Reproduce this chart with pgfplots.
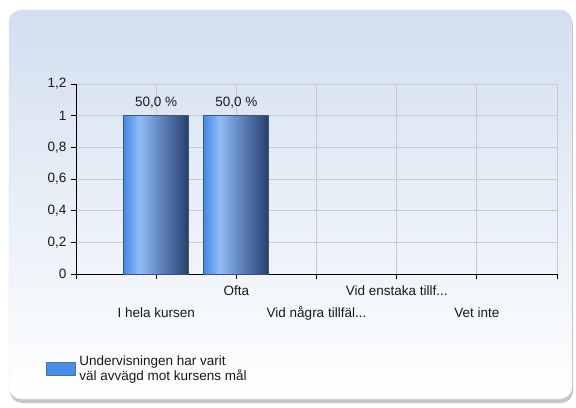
\documentclass[border=0pt]{standalone}
\usepackage{fontspec}
\setmainfont{Liberation Sans}
\usepackage{pgfplots}
\pgfplotsset{compat=1.18}

\definecolor{panelblue}{RGB}{210,223,240}
\definecolor{gridgray}{RGB}{196,201,210}
\definecolor{legblue}{RGB}{72,142,232}
\definecolor{legborder}{RGB}{90,110,140}
\definecolor{barborder}{RGB}{60,85,125}
\definecolor{ba}{RGB}{70,138,230}
\definecolor{bb}{RGB}{144,188,245}
\definecolor{bc}{RGB}{112,150,205}
\definecolor{bd}{RGB}{72,104,158}
\definecolor{be}{RGB}{36,62,104}
\definecolor{txt}{RGB}{25,25,25}

% bar path is mapped onto 25bp..75bp of the shading
\pgfdeclarehorizontalshading{barshade}{100bp}{color(0bp)=(ba); color(25bp)=(ba);
  color(37bp)=(bb); color(48bp)=(bc); color(62bp)=(bd); color(75bp)=(be); color(100bp)=(be)}

\newcommand{\lblfont}{\fontsize{13.5bp}{22bp}\selectfont}
\newcommand{\trdots}{.{}.{}.}

\begin{document}
\begin{tikzpicture}[x=1bp,y=1bp]
% panel with shadow
\fill[black!22, rounded corners=12bp] (10,4) rectangle (573,394);
\shade[top color=panelblue, bottom color=white, rounded corners=12bp, draw=black!12]
  (9,8) rectangle (572,397);

\begin{axis}[
    at={(76bp,133bp)}, anchor=south west,
    scale only axis,
    width=481bp, height=190bp,
    ybar, bar width=65bp, bar shift=0pt,
    xmin=-1, xmax=5,
    ymin=0, ymax=1.2,
    xtick={-1,0,1,2,3,4,5},
    xticklabels={{},{\vphantom{Ofta}\\I hela kursen},{Ofta},{\vphantom{Ofta}\\Vid några tillfäl\trdots},{Vid enstaka tillf\trdots},{\vphantom{Ofta}\\Vet inte},{}},
    ytick={0,0.2,0.4,0.6,0.8,1,1.2},
    yticklabel style={/pgf/number format/use comma},
    /pgf/number format/assume math mode=true,
    x tick label style={align=center, font=\lblfont, text=txt, yshift=-3bp},
    y tick label style={font=\lblfont, text=txt, xshift=-1bp},
    grid=major,
    major grid style={gridgray, line width=0.8bp},
    axis lines*=left,
    axis line style={black, line width=0.9bp},
    tick align=outside,
    major tick length=5bp,
    tick style={black, line width=0.8bp},
    point meta=explicit,
    nodes near coords={\pgfmathprintnumber[fixed,fixed zerofill,precision=1,use comma]{\pgfplotspointmeta} \%},
    every node near coord/.append style={font=\lblfont, text=txt, yshift=4bp},
    legend style={at={(axis description cs:-0.070,-0.50)}, anchor=west,
      draw=none, fill=none, font=\fontsize{13.5bp}{15bp}\selectfont,
      text=txt, cells={anchor=west, align=left}, column sep=2bp},
]
% one plot per bar, so each bar gets its own shading
\addplot[draw=barborder, line width=0.8bp, shading=barshade, forget plot]
  coordinates {(0,1) [50]};
\addplot[draw=barborder, line width=0.8bp, shading=barshade, forget plot]
  coordinates {(1,1) [50]};
\addlegendimage{legend image code/.code={\draw[fill=legblue, draw=legborder, line width=0.8bp] (0bp,-6.5bp) rectangle (29bp,6.5bp);}}
\addlegendentry{Undervisningen har varit\\väl avvägd mot kursens mål}
\end{axis}
\pgfresetboundingbox
\useasboundingbox (0,0) rectangle (576,407);
\end{tikzpicture}
\end{document}
